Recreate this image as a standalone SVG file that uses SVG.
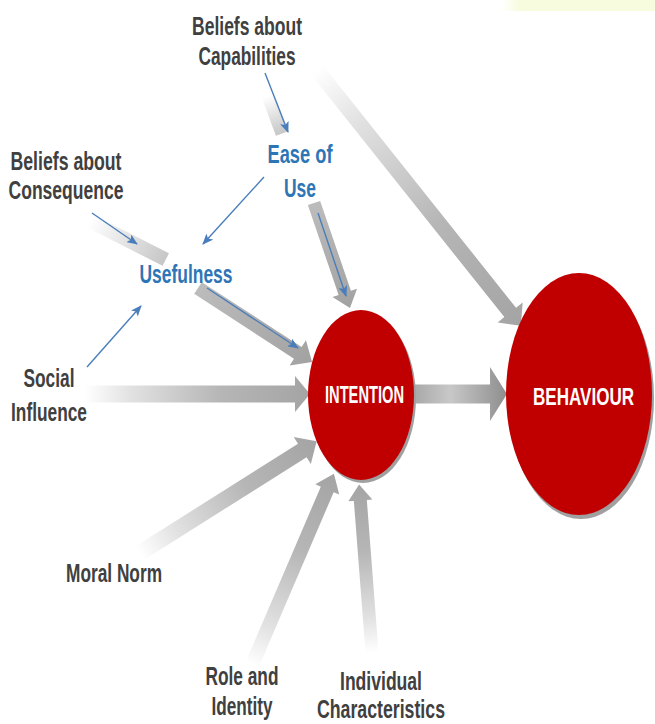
<svg xmlns="http://www.w3.org/2000/svg" width="655" height="724" viewBox="0 0 655 724">
<style>
.lbl{font-family:"Liberation Sans Narrow","Liberation Sans",Arial,sans-serif;font-weight:bold;font-size:25px;fill:#404040;text-anchor:middle}
.big{font-size:20px}
.blue{fill:#2e75b6}
.wt{fill:#ffffff}
.bl{stroke:#4a7ebb;stroke-width:1.4;fill:none;marker-end:url(#bh)}
</style>
<defs>
<marker id="bh" markerUnits="userSpaceOnUse" markerWidth="11" markerHeight="9" refX="10" refY="4.5" orient="auto">
<path d="M0,0 L11,4.5 L0,9 L2.5,4.5 z" fill="#4a7ebb"/>
</marker>
<linearGradient id="gFade" x1="0" y1="0" x2="1" y2="0">
<stop offset="0" stop-color="#ffffff"/>
<stop offset="0.2" stop-color="#e2e2e2"/>
<stop offset="0.6" stop-color="#b6b6b6"/>
<stop offset="1" stop-color="#a4a4a4"/>
</linearGradient>
<linearGradient id="gSolid" x1="0" y1="0" x2="1" y2="0">
<stop offset="0" stop-color="#bcbcbc"/>
<stop offset="1" stop-color="#a2a2a2"/>
</linearGradient>
<linearGradient id="gMid" x1="0" y1="0" x2="1" y2="0">
<stop offset="0" stop-color="#a6a6a6"/>
<stop offset="0.4" stop-color="#c8c8c8"/>
<stop offset="1" stop-color="#8e8e8e"/>
</linearGradient>
<linearGradient id="gBand" x1="0" y1="0" x2="1" y2="0">
<stop offset="0" stop-color="#ffffff"/>
<stop offset="1" stop-color="#c6c6c6"/>
</linearGradient>
<linearGradient id="gYel" x1="0" y1="0" x2="1" y2="0">
<stop offset="0" stop-color="#fafde6" stop-opacity="0"/>
<stop offset="0.12" stop-color="#f8fcdf"/>
<stop offset="1" stop-color="#f8fcdf"/>
</linearGradient>
</defs>
<rect width="655" height="724" fill="#ffffff"/>
<polygon points="505,0 655,0 655,11 500,11" fill="url(#gYel)"/>

<g id="connectors">
<rect x="0" y="-7" width="85" height="14" fill="url(#gBand)" transform="translate(90,221) rotate(27)"/>
<rect x="0" y="-6.5" width="40" height="13" fill="url(#gBand)" transform="translate(268,96) rotate(69.5)"/>
<polygon points="0,-7.5 310,-7.5 310,-16 327,0 310,16 310,7.5 0,7.5" fill="url(#gFade)" transform="translate(317,70) rotate(51.45)"/>
<polygon points="0,-6.5 95,-6.5 95,-13 111,0 95,13 95,6.5 0,6.5" fill="url(#gSolid)" transform="translate(314,203) rotate(71.1)"/>
<polygon points="0,-7 119,-7 119,-15 136,0 119,15 119,7 0,7" fill="url(#gSolid)" transform="translate(198,288) rotate(33)"/>
<polygon points="0,-8.5 210,-8.5 210,-18 225,0 210,18 210,8.5 0,8.5" fill="url(#gFade)" transform="translate(85,394)"/>
<polygon points="0,-8 192,-8 192,-16 209,0 192,16 192,8 0,8" fill="url(#gFade)" transform="translate(140,553) rotate(-32.3)"/>
<polygon points="0,-7 191,-7 191,-13 208,0 191,13 191,7 0,7" fill="url(#gFade)" transform="translate(252,665) rotate(-66.8)"/>
<polygon points="0,-6.5 152,-6.5 152,-12 168,0 152,12 152,6.5 0,6.5" fill="url(#gFade)" transform="translate(372,652) rotate(-94.4)"/>
<polygon points="0,-9.5 78,-9.5 78,-27 95,0 78,27 78,9.5 0,9.5" fill="url(#gMid)" transform="translate(412,394)"/>
<line class="bl" x1="265" y1="73" x2="288" y2="132"/>
<line class="bl" x1="264" y1="177" x2="203" y2="244"/>
<line class="bl" x1="92" y1="213" x2="137" y2="244"/>
<line class="bl" x1="87" y1="367" x2="141" y2="306"/>
<line class="bl" x1="207" y1="288" x2="298" y2="348"/>
<line class="bl" x1="318" y1="213" x2="346" y2="296"/>
</g>

<g id="intention">
<ellipse cx="363" cy="398" rx="53" ry="85" fill="#a0a0a0"/>
<ellipse cx="361" cy="395" rx="53" ry="85" fill="#c00000"/>
<text class="lbl big wt" transform="translate(364.5,403) scale(1,1.2)" x="0" y="0" textLength="79" lengthAdjust="spacingAndGlyphs">INTENTION</text>
</g>
<g id="behaviour">
<ellipse cx="581" cy="398" rx="73" ry="121" fill="#a0a0a0"/>
<ellipse cx="579" cy="394" rx="73" ry="121" fill="#c00000"/>
<text class="lbl big wt" transform="translate(583.5,405) scale(1,1.2)" x="0" y="0" textLength="101" lengthAdjust="spacingAndGlyphs">BEHAVIOUR</text>
</g>
<g id="capabilities">
<text class="lbl" x="247" y="35" textLength="110" lengthAdjust="spacingAndGlyphs">Beliefs about</text>
<text class="lbl" x="247" y="65" textLength="97" lengthAdjust="spacingAndGlyphs">Capabilities</text>
</g>
<g id="consequence">
<text class="lbl" x="66" y="170" textLength="111" lengthAdjust="spacingAndGlyphs">Beliefs about</text>
<text class="lbl" x="66" y="199" textLength="115" lengthAdjust="spacingAndGlyphs">Consequence</text>
</g>
<g id="ease">
<text class="lbl blue" x="300" y="163" textLength="65" lengthAdjust="spacingAndGlyphs">Ease of</text>
<text class="lbl blue" x="300" y="197" textLength="32" lengthAdjust="spacingAndGlyphs">Use</text>
</g>
<g id="usefulness">
<text class="lbl blue" x="186" y="283" textLength="93" lengthAdjust="spacingAndGlyphs">Usefulness</text>
</g>
<g id="social">
<text class="lbl" x="49" y="387" textLength="51" lengthAdjust="spacingAndGlyphs">Social</text>
<text class="lbl" x="49" y="421" textLength="76" lengthAdjust="spacingAndGlyphs">Influence</text>
</g>
<g id="moral">
<text class="lbl" x="114" y="582" textLength="96" lengthAdjust="spacingAndGlyphs">Moral Norm</text>
</g>
<g id="role">
<text class="lbl" x="242" y="685" textLength="73" lengthAdjust="spacingAndGlyphs">Role and</text>
<text class="lbl" x="242" y="715" textLength="61" lengthAdjust="spacingAndGlyphs">Identity</text>
</g>
<g id="individual">
<text class="lbl" x="381" y="690" textLength="82" lengthAdjust="spacingAndGlyphs">Individual</text>
<text class="lbl" x="381" y="718" textLength="128" lengthAdjust="spacingAndGlyphs">Characteristics</text>
</g>
</svg>
